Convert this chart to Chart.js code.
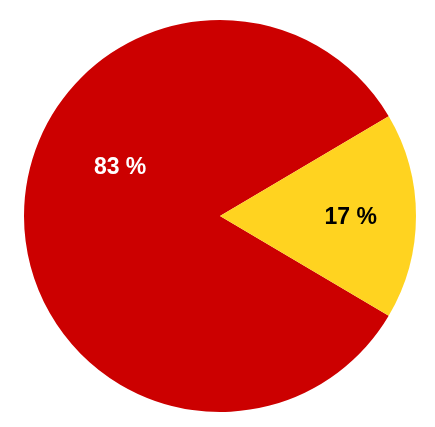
<!DOCTYPE html>
<html>
<head>
<meta charset="utf-8">
<script src="https://cdn.jsdelivr.net/npm/chart.js@4/dist/chart.umd.min.js"></script>
<style>
html,body{margin:0;padding:0;background:#fff;}
#wrap{width:435px;height:427px;}
</style>
</head>
<body>
<div id="wrap"><canvas id="c"></canvas></div>
<script>
const categories = ["A", "B"];
const values = [83, 17];
const labelsText = ["83 %", "17 %"];
const colors = ["#cc0000", "#ffd320"];
const labelColors = ["#ffffff", "#000000"];

const labelPlugin = {
  id: 'sliceLabels',
  afterDatasetsDraw(chart, args, opts) {
    const ctx = chart.ctx;
    const meta = chart.getDatasetMeta(0);
    meta.data.forEach((arc, i) => {
      const p = arc.getProps(['x','y','startAngle','endAngle','outerRadius'], true);
      const mid = (p.startAngle + p.endAngle) / 2 + (opts.angleShift[i] || 0) * Math.PI / 180;
      const r = p.outerRadius * opts.radial[i];
      ctx.save();
      ctx.font = 'bold 23px "Liberation Sans", Arial, sans-serif';
      ctx.fillStyle = labelColors[i];
      ctx.textAlign = 'center';
      ctx.textBaseline = 'middle';
      ctx.fillText(labelsText[i], p.x + r * Math.cos(mid), p.y + r * Math.sin(mid) + opts.dy);
      ctx.restore();
    });
  }
};

new Chart(document.getElementById('c'), {
  type: 'pie',
  data: {
    labels: categories,
    datasets: [{
      data: values,
      backgroundColor: colors,
      borderWidth: 0
    }]
  },
  options: {
    responsive: true,
    maintainAspectRatio: false,
    animation: false,
    rotation: 120.6,
    layout: { padding: { left: 24, right: 19, top: 20, bottom: 15 } },
    plugins: {
      legend: { display: false },
      tooltip: { enabled: false },
      sliceLabels: { radial: [0.57, 0.667], angleShift: [26.6, 0], dy: 2 }
    }
  },
  plugins: [labelPlugin]
});
</script>
</body>
</html>
